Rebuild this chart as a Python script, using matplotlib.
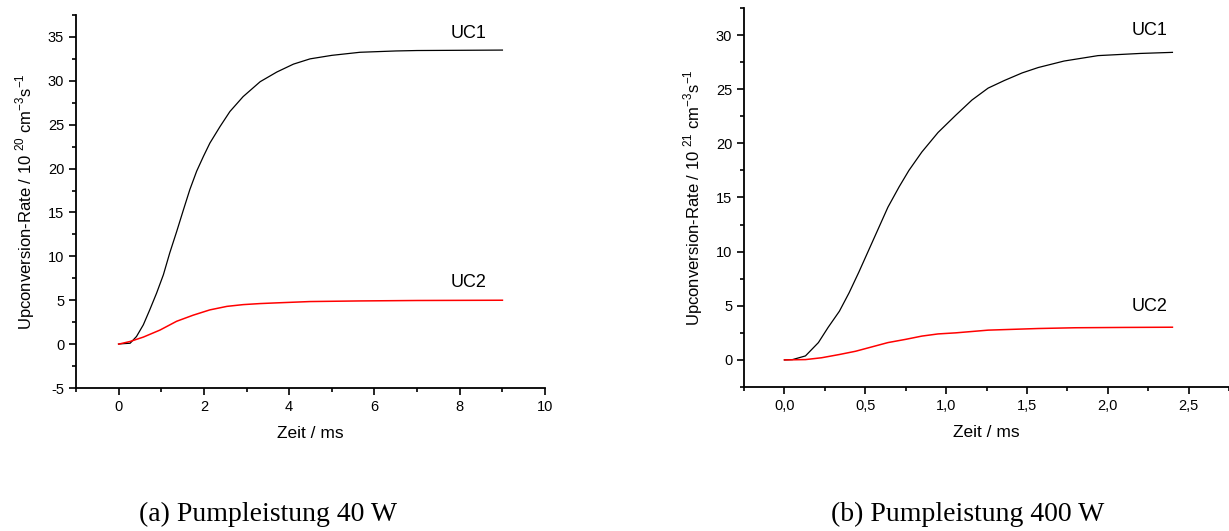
import matplotlib.pyplot as plt
from matplotlib.ticker import MultipleLocator, FuncFormatter

plt.rcParams['font.family'] = ['Liberation Sans', 'DejaVu Sans']
plt.rcParams['mathtext.fontset'] = 'custom'
plt.rcParams['mathtext.rm'] = 'Liberation Sans'
plt.rcParams['axes.unicode_minus'] = False

# (a) Pumpleistung 40 W  (Zeit in ms, Rate in 10^20 cm^-3 s^-1)
t_a = [0.0, 0.03, 0.27, 0.42, 0.58, 0.73, 0.89, 1.05, 1.20, 1.36, 1.52, 1.67, 1.83, 1.99,
       2.14, 2.38, 2.61, 2.92, 3.32, 3.71, 4.10, 4.49, 5.0, 5.66, 6.5, 7.0, 9.0]
uc1_a = [0.0, 0.03, 0.1, 0.87, 2.2, 3.9, 5.8, 7.9, 10.4, 12.8, 15.3, 17.6, 19.7, 21.4,
         22.9, 24.8, 26.5, 28.2, 29.9, 31.0, 31.9, 32.5, 32.9, 33.25, 33.4, 33.45, 33.5]
t_a2 = [0.0, 0.03, 0.27, 0.58, 0.97, 1.36, 1.75, 2.14, 2.54, 2.92, 3.32, 3.71, 4.49, 5.66, 7.0, 9.0]
uc2_a = [0.0, 0.03, 0.3, 0.8, 1.6, 2.6, 3.3, 3.9, 4.3, 4.5, 4.62, 4.7, 4.85, 4.92, 4.97, 5.0]

# (b) Pumpleistung 400 W  (Zeit in ms, Rate in 10^21 cm^-3 s^-1)
t_b = [0.0, 0.05, 0.13, 0.21, 0.27, 0.34, 0.40, 0.46, 0.52, 0.58, 0.64, 0.71, 0.77, 0.85,
       0.95, 1.06, 1.16, 1.26, 1.36, 1.47, 1.57, 1.73, 1.94, 2.2, 2.4]
uc1_b = [0.0, 0.03, 0.37, 1.6, 3.0, 4.5, 6.2, 8.1, 10.1, 12.1, 14.1, 16.0, 17.5, 19.2,
         21.0, 22.6, 24.0, 25.1, 25.8, 26.5, 27.0, 27.6, 28.1, 28.3, 28.4]
t_b2 = [0.0, 0.13, 0.23, 0.34, 0.44, 0.54, 0.64, 0.75, 0.85, 0.95, 1.06, 1.26, 1.57, 1.8, 2.1, 2.4]
uc2_b = [0.0, 0.03, 0.2, 0.5, 0.8, 1.2, 1.6, 1.9, 2.2, 2.4, 2.5, 2.75, 2.9, 2.97, 3.0, 3.02]

fig = plt.figure(figsize=(12.29, 5.31), dpi=100)
ax1 = fig.add_axes([0.0618, 0.2693, 0.3817, 0.7025])
ax2 = fig.add_axes([0.6054, 0.2712, 0.3946, 0.7138])


def stil(ax):
    for s in ['top', 'right']:
        ax.spines[s].set_visible(False)
    for s in ['left', 'bottom']:
        ax.spines[s].set_linewidth(1.3)
    ax.tick_params(which='major', direction='out', length=5, width=1.2, labelsize=10.5)
    ax.tick_params(which='minor', direction='out', length=3, width=1.2)


ax1.plot(t_a, uc1_a, color='black', lw=0.9, solid_joinstyle='round')
ax1.plot(t_a2, uc2_a, color='red', lw=1.1, solid_joinstyle='round')
ax1.set_xlim(-1, 10)
ax1.set_ylim(-5, 37.5)
ax1.xaxis.set_major_locator(MultipleLocator(2))
ax1.xaxis.set_minor_locator(MultipleLocator(1))
ax1.yaxis.set_major_locator(MultipleLocator(5))
ax1.yaxis.set_minor_locator(MultipleLocator(2.5))
stil(ax1)
ax1.set_xlabel('Zeit / ms', fontsize=12.5, labelpad=9)
ax1.set_ylabel(r'Upconversion-Rate / 10 $^{20}$ cm$^{-3}$s$^{-1}$', fontsize=12, labelpad=8)
ax1.text(8.2, 35.4, 'UC1', fontsize=13, ha='center', va='center')
ax1.text(8.2, 7.0, 'UC2', fontsize=13, ha='center', va='center')

ax2.plot(t_b, uc1_b, color='black', lw=0.9, solid_joinstyle='round')
ax2.plot(t_b2, uc2_b, color='red', lw=1.1, solid_joinstyle='round')
ax2.set_xlim(-0.25, 2.75)
ax2.set_ylim(-2.5, 32.5)
ax2.xaxis.set_major_locator(MultipleLocator(0.5))
ax2.xaxis.set_minor_locator(MultipleLocator(0.25))
ax2.yaxis.set_major_locator(MultipleLocator(5))
ax2.yaxis.set_minor_locator(MultipleLocator(2.5))
ax2.xaxis.set_major_formatter(FuncFormatter(lambda v, p: f'{v:.1f}'.replace('.', ',')))
stil(ax2)
ax2.set_xlabel('Zeit / ms', fontsize=12.5, labelpad=9)
ax2.set_ylabel(r'Upconversion-Rate / 10 $^{21}$ cm$^{-3}$s$^{-1}$', fontsize=12, labelpad=8)
ax2.text(2.26, 30.4, 'UC1', fontsize=13, ha='center', va='center')
ax2.text(2.26, 4.9, 'UC2', fontsize=13, ha='center', va='center')

fig.text(0.218, 0.032, '(a) Pumpleistung 40 W', fontsize=20, family='Liberation Serif', ha='center', va='center')
fig.text(0.787, 0.032, '(b) Pumpleistung 400 W', fontsize=20, family='Liberation Serif', ha='center', va='center')

fig.savefig('out.png', dpi=100)
